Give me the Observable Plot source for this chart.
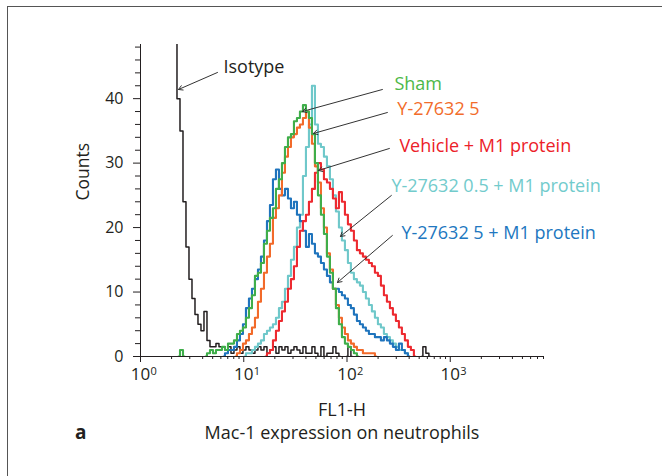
<!DOCTYPE html>
<html>
<head>
<meta charset="utf-8">
<script src="https://cdn.jsdelivr.net/npm/d3@7"></script>
<script src="https://cdn.jsdelivr.net/npm/@observablehq/plot@0.6"></script>
<style>
  body { margin: 0; background: #fff; font-family: "Open Sans", sans-serif; color: #231f20; }
  #frame { position: absolute; left: 7px; top: 6px; width: 700px; height: 520px; border-left: 1px solid #555; border-top: 1px solid #555; }
  #chart { position: absolute; left: 0; top: 0; }
  .lbl { position: absolute; line-height: 20px; white-space: nowrap; }
</style>
</head>
<body>
<div id="frame"></div>
<div id="chart"></div>
<div class="lbl" id="xlabel" style="left:342px; top:399px; transform:translateX(-50%); font-size:18px;">FL1-H</div>
<div class="lbl" id="caption" style="left:342px; top:422px; transform:translateX(-50%); font-size:18px;">Mac-1 expression on neutrophils</div>
<div class="lbl" id="panel" style="left:75px; top:422px; font-size:19px; font-weight:bold;">a</div>
<script>
// Histogram channels (FL1-H values)
const channels = [
  2.182, 2.333, 2.495, 2.667, 2.851, 3.049, 3.260, 3.485, 3.726, 3.984,
  4.259, 4.554, 4.869, 5.205, 5.565, 5.950, 6.362, 6.802, 7.272, 7.775,
  8.313, 8.888, 9.502, 10.16, 10.86, 11.61, 12.42, 13.28, 14.19, 15.18,
  16.23, 17.35, 18.55, 19.83, 21.20, 22.67, 24.24, 25.91, 27.71, 29.62,
  31.67, 33.86, 36.20, 38.71, 41.38, 44.25, 47.31, 50.58, 54.07, 57.81,
  61.81, 66.09, 70.66, 75.54, 80.77, 86.35, 92.32, 98.71, 105.5, 112.8,
  120.6, 129.0, 137.9, 147.4, 157.6, 168.5, 180.2, 192.7, 206.0, 220.2,
  235.5, 251.8, 269.2, 287.8, 307.7, 329.0, 351.7, 376.1, 402.1, 429.9,
  459.6, 491.4, 525.4, 561.7, 600.6, 642.1
];
const isotypeCounts = [
  55, 40, 35, 24, 17, 12, 9, 6.5, 5, 4,
  7, 2.5, 1.5, 1.5, 2, 1.5, 1.5, 1, 1.5, 0.5,
  1, 1.5, 0.5, 1, 1.5, 1, 0.5, 1, 1.5, 1,
  1.5, 0.5, 1, 1.5, 0.5, 1.5, 1, 1.5, 0.5, 1,
  1.5, 1, 0.5, 1.5, 0.5, 0.5, 1.5, 0.5, 0, 1.5,
  0, 0.5, 0.5, 1.5, 0.5, 0, 0, 0, 1.5, 0,
  0, 0, 0, 0, 0, 0, 0, 0, 0, 0,
  0, 0, 0, 0, 0, 0, 0, 0, 0, 0,
  0, 0, 0, 1.5, 0.5, 0
];
const shamCounts = [
  0, 0, 1, 0, 0, 0, 0, 0, 0, 0,
  0, 0.5, 1, 0.5, 1, 1, 1.5, 1, 2, 2,
  2.5, 3.5, 4, 4.5, 6, 7.5, 9.5, 12.5, 13, 14.5,
  17.5, 19.5, 21.5, 23, 26, 27.5, 30, 32.5, 34, 34.5,
  36.5, 37, 38, 39, 38, 37, 34.5, 30, 25, 22,
  19, 15.5, 13, 10.5, 7.5, 5, 3, 2, 1.5, 1,
  0.5, 0, 0, 0, 0, 0, 0, 0, 0, 0,
  0, 0, 0, 0, 0, 0, 0, 0, 0, 0,
  0, 0, 0, 0, 0, 0
];
const y5Counts = [
  0, 0, 0, 0, 0, 0, 0, 0, 0, 0,
  0, 0, 0, 0, 0, 0, 0, 0, 0, 0,
  0, 0.5, 1, 2, 2.5, 3.5, 4.5, 6, 8.5, 10.5,
  13, 15.5, 17.5, 21.5, 23, 25, 28.5, 31, 32.5, 34,
  34.5, 35.5, 36, 37, 38, 35.5, 33, 29.5, 27, 23,
  20, 16, 13.5, 10.5, 8, 6, 4.5, 3.5, 2.5, 2,
  1.5, 1, 1, 0.5, 0.5, 0.5, 0.5, 0, 0, 0,
  0, 0, 0, 0, 0, 0, 0, 0, 0, 0,
  0, 0, 0, 0, 0, 0
];
const vehicleM1Counts = [
  0, 0, 0, 0, 0, 0, 0, 0, 0, 0,
  0, 0, 0, 0, 0, 0, 0, 0, 0, 0,
  0, 0, 0, 0, 0, 0, 0, 0, 0, 0,
  0, 0.5, 1, 2.5, 4, 5.5, 7, 8.5, 10.5, 12,
  14, 17, 19.5, 21, 22, 24, 26, 28.5, 30, 29,
  27.5, 27, 26, 24.5, 23, 25.5, 24, 22, 20.5, 19.5,
  18, 16.5, 16, 15.5, 15, 14.5, 14, 13, 12.5, 11,
  9.5, 8.5, 7.5, 6.5, 5.5, 4.5, 3.5, 2.5, 1.5, 1,
  0, 0, 0, 0, 0, 0
];
const y05M1Counts = [
  0, 0, 0, 0, 0, 0, 0, 0, 0, 0,
  0, 0, 0, 0, 0, 0, 0, 0, 0, 0,
  0, 0, 0, 0, 0.5, 0.5, 1, 1.5, 2, 2.5,
  3.5, 4, 4.5, 5, 6, 7.5, 8.5, 10.5, 12.5, 15,
  17, 20, 22, 28, 32.5, 36, 42, 36, 33, 32.5,
  31, 29.5, 27.5, 25, 22.5, 20, 18, 16.5, 14.5, 13,
  12, 11.5, 11, 10, 9, 8, 7, 6, 5, 4.5,
  3.5, 3, 2.5, 2, 1.5, 1, 1, 0.5, 0, 0,
  0, 0, 0, 0, 0, 0
];
const y5M1Counts = [
  0, 0, 0, 0, 0, 0, 0, 0, 0, 0,
  0, 0, 0, 0, 0, 0, 0, 0.5, 1, 1,
  1.5, 2.5, 3.5, 5, 7.5, 9, 10.5, 12, 13.5, 15.5,
  18, 21, 23.5, 27.5, 29, 26, 25, 26, 24.5, 23,
  24, 22, 21, 19.5, 17, 19, 17.5, 16, 15.5, 14.5,
  13.5, 12.5, 11.5, 10.5, 10.5, 10, 9.5, 9, 8, 7.5,
  6.5, 5.5, 5, 4.5, 4, 3.5, 3.5, 3, 3, 2.5,
  3, 2.5, 2, 1.5, 1, 2, 1, 0.5, 0, 0,
  0, 0, 0, 0, 0, 0
];

// Series names, colours (drawing order)
const seriesNames = ["Isotype", "Y-27632 0.5 + M1 protein", "Y-27632 5 + M1 protein", "Vehicle + M1 protein", "Y-27632 5", "Sham"];
const seriesCounts = [isotypeCounts, y05M1Counts, y5M1Counts, vehicleM1Counts, y5Counts, shamCounts];
const seriesColors = ["#231f20", "#6fc8ca", "#1f74bd", "#ed2a30", "#f26a2a", "#3fae4a"];
const seriesWidths = [1.5, 2.1, 2.1, 2.1, 2.1, 2.1];

// Axis ticks
const yMajor = [0, 10, 20, 30, 40];
const yMinor = [2, 4, 6, 8, 12, 14, 16, 18, 22, 24, 26, 28, 32, 34, 36, 38, 42, 44, 46, 48];
const xMajor = [1, 10, 100, 1000];
const xExponents = ["0", "1", "2", "3"];
const xMinor = [2, 3, 4, 5, 6, 7, 8, 9, 20, 30, 40, 50, 60, 70, 80, 90, 200, 300, 400, 500, 600, 700, 800, 900, 2000, 3000, 4000, 5000, 6000, 7000, 8000];

// Annotations
const annLabels = ["Isotype", "Sham", "Y-27632 5", "Vehicle + M1 protein", "Y-27632 0.5 + M1 protein", "Y-27632 5 + M1 protein"];
const annX = [6.36, 287.7, 307.5, 321.6, 269.0, 336.2];
const annY = [44.9, 42.2, 38.35, 32.6, 26.4, 19.1];
const annColors = ["#231f20", "#4db848", "#f26c2b", "#ec2128", "#72cbcc", "#2177c0"];
const arrowX1 = [5.565, 220.2, 246.1, 257.3, 269.0, 275.1];
const arrowY1 = [44.06, 41.42, 37.85, 32.27, 24.98, 18.77];
const arrowX2 = [2.333, 37.0, 47.3, 52.85, 86.3, 80.77];
const arrowY2 = [41.42, 38.01, 34.6, 28.86, 18.62, 11.48];

// Build line data; interior runs of zeros become gaps
function buildSeries(counts, name) {
  return counts.map((c, i) => {
    const prev = i > 0 ? counts[i - 1] : 0;
    const next = i < counts.length - 1 ? counts[i + 1] : 0;
    const y = (c === 0 && prev === 0 && next === 0) ? NaN : c;
    return {x: channels[i], y, name};
  });
}

const lineMarks = seriesNames.map((name, k) =>
  Plot.line(buildSeries(seriesCounts[k], name), {
    x: "x", y: "y", curve: "step", stroke: seriesColors[k],
    strokeWidth: seriesWidths[k], clip: true
  })
);

const annData = annLabels.map((t, i) => ({t, x: annX[i], y: annY[i], c: annColors[i]}));
const arrowData = annLabels.map((t, i) => ({x1: arrowX1[i], y1: arrowY1[i], x2: arrowX2[i], y2: arrowY2[i]}));

const chart = Plot.plot({
  width: 662,
  height: 395,
  marginLeft: 140,
  marginRight: 119,
  marginTop: 44,
  marginBottom: 39,
  x: {type: "log", domain: [1, 8000]},
  y: {domain: [0, 48.4]},
  style: {fontFamily: "'Open Sans', sans-serif", fontSize: "16px", color: "#231f20", background: "transparent"},
  marks: [
    ...lineMarks,
    Plot.ruleX([1], {stroke: "#231f20", strokeWidth: 1}),
    Plot.ruleY([0], {stroke: "#231f20", strokeWidth: 1}),
    Plot.axisY({ticks: yMajor, tickSize: 7, tickPadding: 10, fontSize: 16, label: null, stroke: "#231f20"}),
    Plot.axisY({ticks: yMinor, tickSize: 5, tickFormat: () => "", label: null, stroke: "#231f20"}),
    Plot.axisX({ticks: xMajor, tickSize: 6, tickFormat: () => "", label: null, stroke: "#231f20"}),
    Plot.axisX({ticks: xMinor, tickSize: 3, tickFormat: () => "", label: null, stroke: "#231f20"}),
    Plot.text(xMajor, {x: d => d, frameAnchor: "bottom", dy: 23.5, text: () => "10", fontSize: 17, fill: "#231f20"}),
    Plot.text(xMajor, {x: d => d, frameAnchor: "bottom", dy: 18, dx: 10, text: (d, i) => xExponents[i], fontSize: 11, textAnchor: "start", fill: "#231f20"}),
    Plot.text(["Counts"], {frameAnchor: "left", dx: -57, rotate: -90, fontSize: 17.5, fill: "#231f20"}),
    Plot.arrow(arrowData, {x1: "x1", y1: "y1", x2: "x2", y2: "y2", stroke: "#333", strokeWidth: 1, headLength: 7}),
    Plot.text(annData, {x: "x", y: "y", text: "t", fill: "c", textAnchor: "start", fontSize: 18})
  ]
});
document.getElementById("chart").appendChild(chart);
</script>
</body>
</html>
